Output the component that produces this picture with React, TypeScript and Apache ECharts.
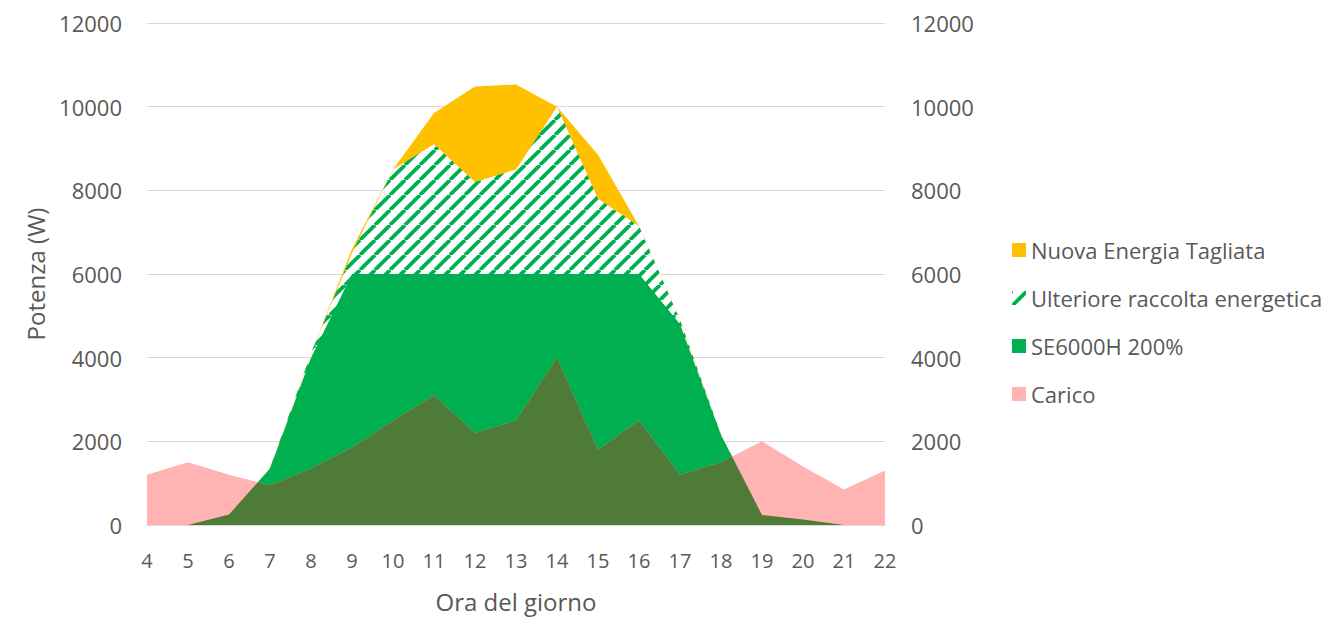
import React, { useEffect, useRef } from "react";
import * as echarts from "echarts";

const hours = ["4", "5", "6", "7", "8", "9", "10", "11", "12", "13", "14", "15", "16", "17", "18", "19", "20", "21", "22"];
const nuovaEnergia = [0, 0, 250, 1350, 4100, 6600, 8500, 9850, 10480, 10530, 10000, 8850, 7150, 4900, 2150, 240, 130, 0, 0];
const ulteriore = [0, 0, 250, 1350, 4100, 6500, 8500, 9100, 8200, 8500, 10000, 7800, 7150, 4900, 2150, 240, 130, 0, 0];
const se6000h = [0, 0, 250, 1350, 4000, 6000, 6000, 6000, 6000, 6000, 6000, 6000, 6000, 4800, 2150, 240, 130, 0, 0];
const carico = [1200, 1500, 1200, 950, 1350, 1850, 2500, 3100, 2200, 2500, 4000, 1800, 2500, 1200, 1500, 2000, 1400, 850, 1300];

const seriesNames = ["Nuova Energia Tagliata", "Ulteriore raccolta energetica", "SE6000H 200%", "Carico"];

const GOLD = "#FFC000";
const GREEN = "#00B050";
const PINK = "#FFB3B3";
const DARK = "#4E7B37";
const TEXT = "#595959";
const FONT = "'Open Sans', 'Noto Sans', sans-serif";

function makeHatch(): HTMLCanvasElement {
  const s = 15;
  const c = document.createElement("canvas");
  c.width = s;
  c.height = s;
  const ctx = c.getContext("2d")!;
  ctx.fillStyle = "#ffffff";
  ctx.fillRect(0, 0, s, s);
  ctx.strokeStyle = GREEN;
  ctx.lineWidth = 3.8;
  for (let k = -1; k <= 1; k++) {
    ctx.beginPath();
    ctx.moveTo(k * s, s);
    ctx.lineTo(k * s + s, 0);
    ctx.stroke();
  }
  return c;
}

export default function App() {
  const ref = useRef<HTMLDivElement>(null);
  useEffect(() => {
    if (!ref.current) return;
    const chart = echarts.init(ref.current, undefined, { renderer: "svg" });
    const hatch = { image: makeHatch(), repeat: "repeat" } as any;

    const areaSeries = (name: string, data: number[], color: any, z: number) => ({
      name,
      type: "line",
      data,
      z,
      showSymbol: false,
      symbol: "none",
      lineStyle: { width: 0, opacity: 0 },
      itemStyle: { color },
      areaStyle: { color, opacity: 1 },
      emphasis: { disabled: true },
    });

    const overlapRender = (params: any, api: any) => {
      const n = hours.length;
      const pts: number[][] = [];
      for (let i = 0; i < n; i++) {
        const c = carico[i];
        const g = se6000h[i];
        const p = api.coord([i, Math.min(c, g)]);
        pts.push([p[0], p[1]]);
        if (i < n - 1) {
          const c2 = carico[i + 1];
          const g2 = se6000h[i + 1];
          if ((c - g) * (c2 - g2) < 0) {
            const a1 = api.coord([i, c]);
            const a2 = api.coord([i + 1, c2]);
            const b1 = api.coord([i, g]);
            const b2 = api.coord([i + 1, g2]);
            const da = a1[1] - b1[1];
            const db = a2[1] - b2[1];
            const t = da / (da - db);
            pts.push([a1[0] + (a2[0] - a1[0]) * t, a1[1] + (a2[1] - a1[1]) * t]);
          }
        }
      }
      const e = api.coord([n - 1, 0]);
      const s = api.coord([0, 0]);
      pts.push([e[0], e[1]]);
      pts.push([s[0], s[1]]);
      return {
        type: "polygon",
        shape: { points: pts },
        style: { fill: DARK, stroke: "none" },
      };
    };

    chart.setOption({
      animation: false,
      textStyle: { fontFamily: FONT },
      grid: { left: 147, right: 449, top: 23, bottom: 94 },
      legend: {
        orient: "vertical",
        left: 1007,
        top: 233,
        itemWidth: 14,
        itemHeight: 14,
        itemGap: 24,
        icon: "rect",
        selectedMode: false,
        textStyle: { fontFamily: FONT, fontSize: 22, color: TEXT, lineHeight: 24 },
        data: [
          { name: seriesNames[0], itemStyle: { color: GOLD } },
          { name: seriesNames[1], itemStyle: { color: hatch } },
          { name: seriesNames[2], itemStyle: { color: GREEN } },
          { name: seriesNames[3], itemStyle: { color: PINK } },
        ],
      },
      xAxis: {
        type: "category",
        data: hours,
        boundaryGap: false,
        name: "Ora del giorno",
        nameLocation: "middle",
        nameGap: 64,
        nameTextStyle: { fontFamily: FONT, fontSize: 24, color: TEXT },
        axisLine: { show: true, lineStyle: { color: "#D9D9D9", width: 1 } },
        axisTick: { show: false },
        axisLabel: { fontFamily: FONT, fontSize: 20, color: TEXT, margin: 25 },
        splitLine: { show: false },
        z: 10,
      },
      yAxis: [
        {
          type: "value",
          min: 0,
          max: 12000,
          interval: 2000,
          name: "Potenza (W)",
          nameLocation: "middle",
          nameGap: 100,
          nameTextStyle: { fontFamily: FONT, fontSize: 24, color: TEXT },
          axisLine: { show: false },
          axisTick: { show: false },
          axisLabel: { fontFamily: FONT, fontSize: 22, color: TEXT, margin: 25, formatter: (v: number) => String(v) },
          splitLine: { show: true, lineStyle: { color: "#D9D9D9", width: 1 } },
        },
        {
          type: "value",
          min: 0,
          max: 12000,
          interval: 2000,
          position: "right",
          axisLine: { show: false },
          axisTick: { show: false },
          axisLabel: { fontFamily: FONT, fontSize: 22, color: TEXT, margin: 26, formatter: (v: number) => String(v) },
          splitLine: { show: false },
        },
      ],
      series: [
        areaSeries(seriesNames[0], nuovaEnergia, GOLD, 2),
        areaSeries(seriesNames[1], ulteriore, hatch, 3),
        areaSeries(seriesNames[2], se6000h, GREEN, 4),
        areaSeries(seriesNames[3], carico, PINK, 5),
        {
          type: "custom",
          name: "overlap",
          z: 6,
          data: [[0, 0]],
          encode: { x: 0, y: 1 },
          renderItem: overlapRender,
          silent: true,
          clip: true,
        },
      ],
    });
    return () => chart.dispose();
  }, []);
  return <div ref={ref} style={{ position: "absolute", left: 0, top: 0, width: 1334, height: 619 }} />;
}
